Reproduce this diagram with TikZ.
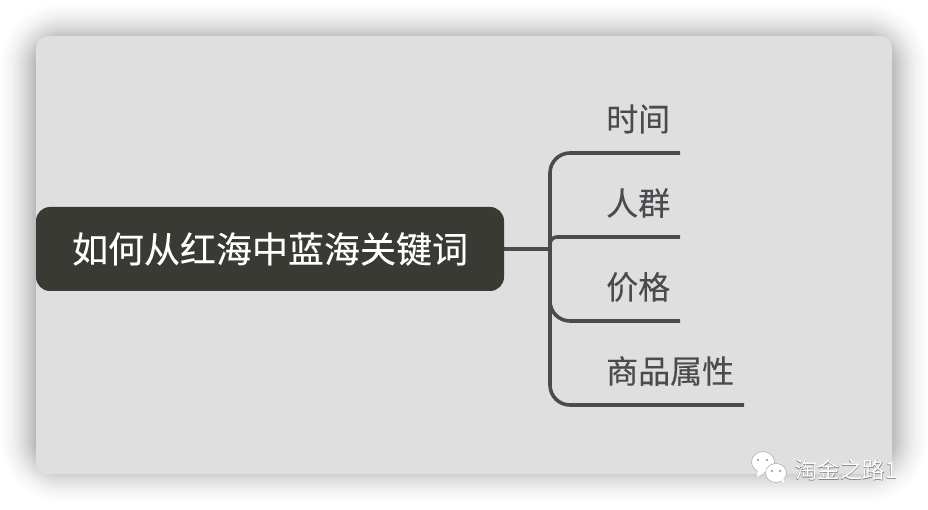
\documentclass[tikz,border=0pt]{standalone}
\usepackage{fontspec}
\setmainfont{Noto Sans CJK SC}
\newfontfamily\heavycjk[FakeBold=0.2]{Noto Sans CJK SC}
\newfontfamily\markcjk[FakeBold=0.5]{Noto Sans CJK SC}
\definecolor{panelgray}{HTML}{DFDFDF}
\definecolor{rootgray}{HTML}{393A34}
\definecolor{linegray}{HTML}{4B4B4F}
\tikzset{
  rootbox/.style={fill=rootgray, text=white, rounded corners=14pt, minimum width=468pt, minimum height=84pt, inner sep=0pt, font=\heavycjk\fontsize{36}{36}\selectfont},
  topiclabel/.style={anchor=west, inner sep=0pt, text=linegray, font=\heavycjk\fontsize{32}{32}\selectfont},
  branchline/.style={draw=linegray, line width=3.6pt, rounded corners=20pt},
  marktext/.style={anchor=west, inner sep=0pt, font=\fontsize{22.5}{22.5}\selectfont},
  bubble/.style={fill=white, draw=black!35, line width=0.5pt},
}

\begin{document}
\begin{tikzpicture}[x=1pt,y=-1pt]
        \useasboundingbox (0,0) rectangle (928,510);
        \fill [white] (0,0) rectangle (928,510);
        % soft shadow round the panel
        \begin{scope}
        \clip (0,0) rectangle (928,510);
        \foreach \r in {-12,...,36} {
            \pgfmathsetmacro{\op}{0.0012+0.0003*(36-\r)}
            \pgfmathsetmacro{\rad}{\r+30}
            \pgfmathsetmacro{\lx}{33-\r}
            \pgfmathsetmacro{\ty}{36-\r}
            \pgfmathsetmacro{\rx}{895+\r}
            \pgfmathsetmacro{\by}{470+\r}
            \fill [black, opacity=\op, rounded corners=\rad pt] (\lx,\ty) rectangle (\rx,\by);
        }
        \end{scope}
        \fill [panelgray, rounded corners=12pt] (36,36) rectangle (892,474);

        \node[rootbox] (root) at (270,249) {\raisebox{3pt}{如何从红海中蓝海关键词}};
        \node[topiclabel] (time) at (606,119) {时间};
        \node[topiclabel] (crowd) at (606,203) {人群};
        \node[topiclabel] (price) at (606,287) {价格};
        \node[topiclabel] (attr) at (606,371) {商品属性};

        \coordinate (hub) at (550,249);
        \coordinate (timeend) at (680,153);
        \coordinate (crowdend) at (680,237);
        \coordinate (priceend) at (680,321);
        \coordinate (attrend) at (744,405);

        \draw [branchline] (root.east) -- (hub);
        \draw [branchline] (hub) |- (timeend);
        \draw [branchline, rounded corners=7pt] (hub) |- (crowdend);
        \draw [branchline] (hub) |- (priceend);
        \draw [branchline] (hub) |- (attrend);

        % watermark
        \draw [bubble] (763,462) ellipse [x radius=11.5, y radius=10.5];
        \fill [white] (758,469) -- (757,477) -- (766,471) -- cycle;
        \fill [black!45] (758,460) circle [radius=1.2] (767,460) circle [radius=1.2];
        \draw [bubble] (776,473) ellipse [x radius=10.5, y radius=9.5];
        \fill [white] (780,480) -- (784,483) -- (783,476) -- cycle;
        \fill [black!45] (772,471) circle [radius=1.2] (780,471) circle [radius=1.2];
        \node[marktext, text=black!55, font=\markcjk\fontsize{22.5}{22.5}\selectfont] at (794.6,470) {淘金之路1};
        \node[marktext, text=white] (mark) at (795.2,470) {淘金之路1};
\end{tikzpicture}
\end{document}
